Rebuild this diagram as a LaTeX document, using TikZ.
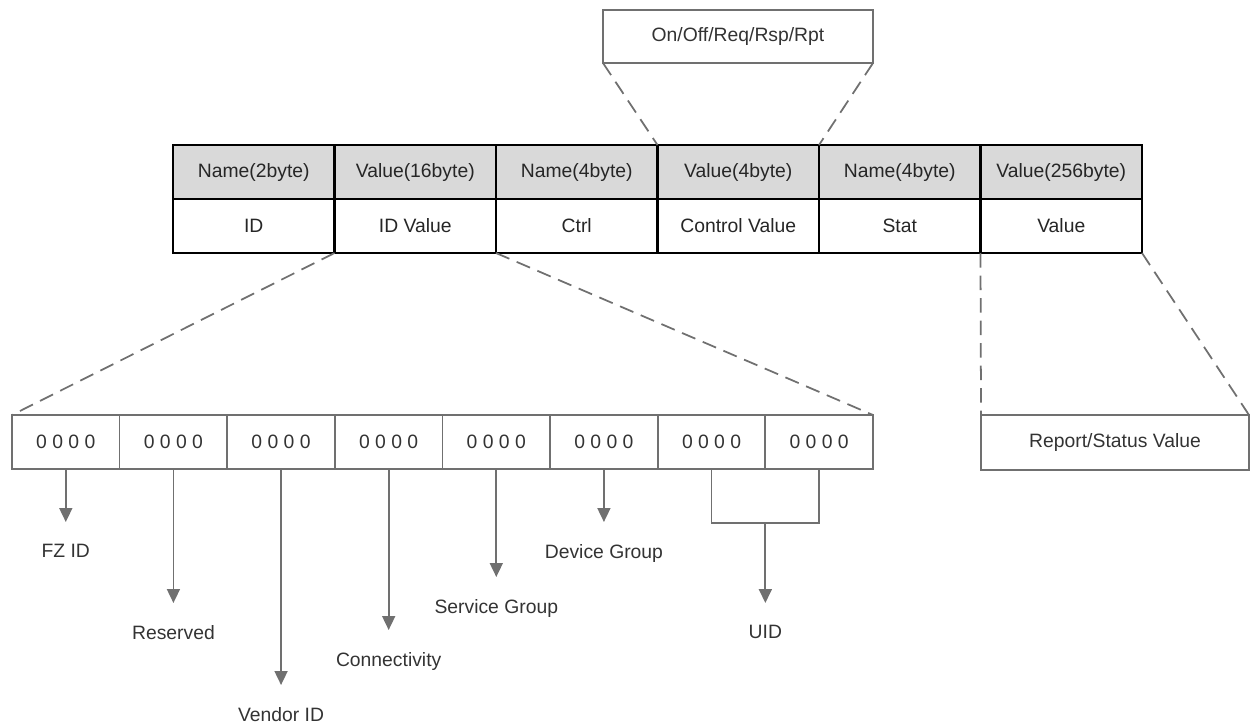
\documentclass[tikz,border=0pt]{standalone}
\usepackage{fontspec}
\setmainfont{Liberation Sans}
\usepackage{tikz}
\usetikzlibrary{arrows.meta,positioning}
\tikzset{
  hdcell/.style={draw=black, fill=black!15, line width=1.2pt, minimum width=3.23cm, minimum height=1.08cm, inner sep=0pt, outer sep=0pt, text=black!85, font=\fontsize{11}{13}\selectfont},
  valcell/.style={hdcell, fill=white},
  bitcell/.style={draw=black!56, line width=1pt, minimum width=2.1525cm, minimum height=1.08cm, inner sep=0pt, outer sep=0pt, text=black!80, font=\fontsize{11}{13}\selectfont},
  notebox/.style={draw=black!56, line width=1pt, minimum height=1.08cm, inner sep=0pt, outer sep=0pt, text=black!80, font=\fontsize{11}{13}\selectfont},
  zoomline/.style={draw=black!56, line width=1pt, dash pattern=on 0.29cm off 0.16cm},
  wire/.style={draw=black!56, line width=1pt},
  pointer/.style={-{Triangle[length=2.8mm,width=2.6mm]}, draw=black!56, fill=black!56, line width=1pt},
  lbl/.style={inner xsep=0pt, inner ysep=0.44cm, outer sep=0pt, text=black!80, font=\fontsize{11}{13}\selectfont}
}

\begin{document}
\begin{tikzpicture}
\useasboundingbox (0,0) rectangle (25,-14.48);

% message frame
\node[hdcell] (h1) at (5.075,-3.44) {Name(2byte)};
\node[hdcell, right=0pt of h1] (h2) {Value(16byte)};
\node[hdcell, right=0pt of h2] (h3) {Name(4byte)};
\node[hdcell, right=0pt of h3] (h4) {Value(4byte)};
\node[hdcell, right=0pt of h4] (h5) {Name(4byte)};
\node[hdcell, right=0pt of h5] (h6) {Value(256byte)};
\node[valcell, below=0pt of h1] (v1) {ID};
\node[valcell, below=0pt of h2] (v2) {ID Value};
\node[valcell, below=0pt of h3] (v3) {Ctrl};
\node[valcell, below=0pt of h4] (v4) {Control Value};
\node[valcell, below=0pt of h5] (v5) {Stat};
\node[valcell, below=0pt of h6] (v6) {Value};

\node[notebox, minimum width=5.4cm, minimum height=1.06cm] (ctrl) at (14.76,-0.73) {On/Off/Req/Rsp/Rpt};
\node[notebox, minimum width=5.36cm, minimum height=1.1cm] (report) at (22.3,-8.85) {Report/Status Value};

% ID value split into 4-bit groups
\node[bitcell] (b1) at (1.316,-8.84) {0 0 0 0};
\node[bitcell, right=0pt of b1] (b2) {0 0 0 0};
\node[bitcell, right=0pt of b2] (b3) {0 0 0 0};
\node[bitcell, right=0pt of b3] (b4) {0 0 0 0};
\node[bitcell, right=0pt of b4] (b5) {0 0 0 0};
\node[bitcell, right=0pt of b5] (b6) {0 0 0 0};
\node[bitcell, right=0pt of b6] (b7) {0 0 0 0};
\node[bitcell, right=0pt of b7] (b8) {0 0 0 0};

\node[lbl, below=1.06cm of b1] (fzid) {FZ ID};
\node[lbl, below=2.68cm of b2] (resv) {Reserved};
\node[lbl, below=4.32cm of b3] (vendor) {Vendor ID};
\node[lbl, below=3.22cm of b4] (conn) {Connectivity};
\node[lbl, below=2.16cm of b5] (svc) {Service Group};
\node[lbl, below=1.06cm of b6] (dev) {Device Group};
\coordinate[below=1.08cm of b7.south east] (uidjoin);
\node[lbl, below=1.6cm of uidjoin] (uid) {UID};

\draw[zoomline] (ctrl.south west) -- (h4.north west);
\draw[zoomline] (ctrl.south east) -- (h4.north east);
\draw[zoomline] (v2.south west) -- (b1.north west);
\draw[zoomline] (v2.south east) -- (b8.north east);
\draw[zoomline] (v6.south west) -- (report.north west);
\draw[zoomline] (v6.south east) -- (report.north east);

\draw[pointer] (b1) -- (fzid);
\draw[pointer] (b2) -- (resv);
\draw[pointer] (b3) -- (vendor);
\draw[pointer] (b4) -- (conn);
\draw[pointer] (b5) -- (svc);
\draw[pointer] (b6) -- (dev);
\draw[wire] (b7.south) |- (uidjoin) -| (b8.south);
\draw[pointer] (uidjoin) -- (uid);
\end{tikzpicture}
\end{document}
